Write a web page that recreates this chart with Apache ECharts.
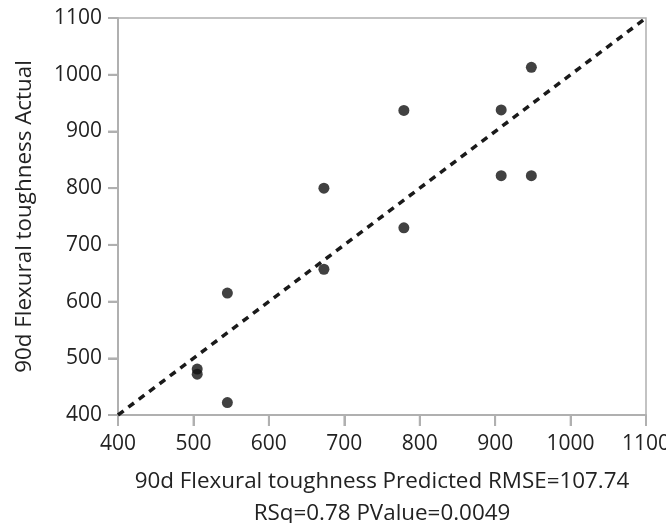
<!DOCTYPE html>
<html>
<head>
<meta charset="utf-8">
<script src="https://cdn.jsdelivr.net/npm/echarts@6/dist/echarts.min.js"></script>
<style>html,body{margin:0;padding:0;background:#fff}#c{width:666px;height:523px}</style>
</head>
<body>
<div id="c"></div>
<script>
const predicted = [505, 505, 545, 545, 673, 673, 779, 779, 908, 908, 948, 948];
const actual    = [481, 472, 615, 422, 657, 800, 730, 937, 938, 822, 822, 1013];
const diagonal  = [[400, 400], [1100, 1100]];
const tickValues = [400, 500, 600, 700, 800, 900, 1000, 1100];
const xName = '90d Flexural toughness Predicted RMSE=107.74\nRSq=0.78 PValue=0.0049';
const yName = '90d Flexural toughness Actual';

const font = '"Open Sans", "Noto Sans", sans-serif';
const points = predicted.map((p, i) => [p, actual[i]]);
const axisGray = '#b0b0b0';
const textColor = '#222';
const axisMin = tickValues[0];
const xTickMarks = tickValues.map(v => [v, axisMin]);
const yTickMarks = tickValues.map(v => [axisMin, v]);

const chart = echarts.init(document.getElementById('c'));
chart.setOption({
  animation: false,
  grid: {
    left: 118, right: 20, top: 18, bottom: 108, show: true,
    borderColor: axisGray, borderWidth: 1.5,
    containLabel: false, outerBoundsMode: 'none'
  },
  xAxis: {
    type: 'value', min: 400, max: 1100, interval: 100,
    name: xName, nameLocation: 'middle', nameGap: 51,
    nameTextStyle: { fontFamily: font, fontSize: 22.4, color: textColor, lineHeight: 32 },
    axisLine: { show: true, lineStyle: { color: axisGray, width: 2 } },
    axisTick: { show: true, inside: false, length: 11, lineStyle: { color: axisGray, width: 2 } },
    axisLabel: { fontFamily: font, fontSize: 21, color: textColor, margin: 19, formatter: v => String(v) },
    splitLine: { show: false }
  },
  yAxis: {
    type: 'value', min: 400, max: 1100, interval: 100,
    name: yName, nameLocation: 'middle', nameGap: 82,
    nameTextStyle: { fontFamily: font, fontSize: 22.4, color: textColor },
    axisLine: { show: true, lineStyle: { color: axisGray, width: 2 } },
    axisTick: { show: true, inside: false, length: 10, lineStyle: { color: axisGray, width: 2 } },
    axisLabel: { fontFamily: font, fontSize: 21, color: textColor, margin: 16, formatter: v => String(v) },
    splitLine: { show: false }
  },
  series: [
    {
      type: 'scatter', data: xTickMarks, silent: true, clip: false, z: 1,
      symbol: 'rect', symbolSize: [2, 11], symbolOffset: [0, 5.5],
      itemStyle: { color: axisGray }
    },
    {
      type: 'scatter', data: yTickMarks, silent: true, clip: false, z: 1,
      symbol: 'rect', symbolSize: [10, 2], symbolOffset: [-5, 0],
      itemStyle: { color: axisGray }
    },
    {
      type: 'line', data: diagonal, showSymbol: false, silent: true,
      lineStyle: { color: '#1a1a1a', width: 3.5, type: [7, 6] }, z: 2
    },
    {
      type: 'scatter', data: points, symbol: 'circle', symbolSize: 11,
      itemStyle: { color: '#111' }, z: 3
    }
  ]
});
</script>
</body>
</html>
